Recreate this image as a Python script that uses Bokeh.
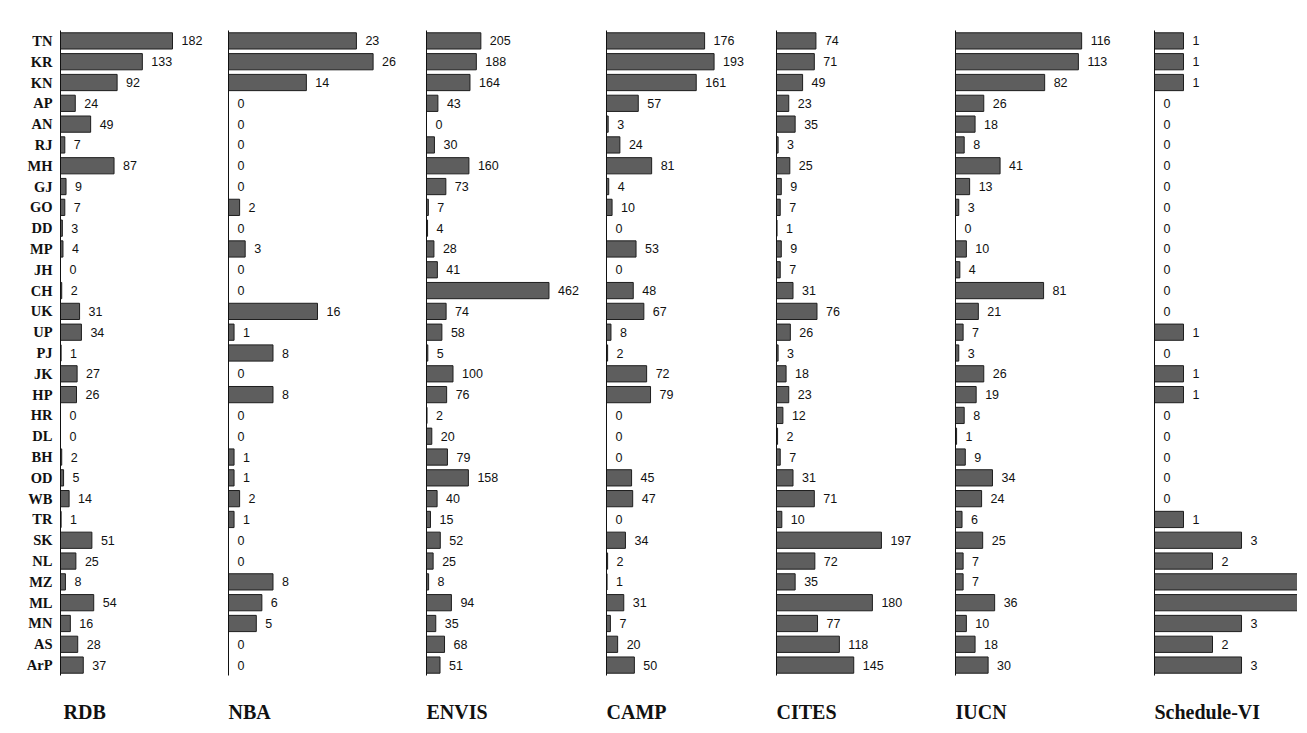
from bokeh.plotting import figure
from bokeh.layouts import row
from bokeh.models import ColumnDataSource, FactorRange, Range1d, Title, FixedTicker
from bokeh.embed import file_html
from bokeh.resources import INLINE
from bokeh.core.properties import value

states = ["TN", "KR", "KN", "AP", "AN", "RJ", "MH", "GJ", "GO", "DD", "MP", "JH", "CH", "UK", "UP", "PJ",
          "JK", "HP", "HR", "DL", "BH", "OD", "WB", "TR", "SK", "NL", "MZ", "ML", "MN", "AS", "ArP"]

rdb = [182, 133, 92, 24, 49, 7, 87, 9, 7, 3, 4, 0, 2, 31, 34, 1, 27, 26, 0, 0, 2, 5, 14, 1, 51, 25, 8, 54, 16, 28, 37]
nba = [23, 26, 14, 0, 0, 0, 0, 0, 2, 0, 3, 0, 0, 16, 1, 8, 0, 8, 0, 0, 1, 1, 2, 1, 0, 0, 8, 6, 5, 0, 0]
envis = [205, 188, 164, 43, 0, 30, 160, 73, 7, 4, 28, 41, 462, 74, 58, 5, 100, 76, 2, 20, 79, 158, 40, 15, 52, 25, 8, 94, 35, 68, 51]
camp = [176, 193, 161, 57, 3, 24, 81, 4, 10, 0, 53, 0, 48, 67, 8, 2, 72, 79, 0, 0, 0, 45, 47, 0, 34, 2, 1, 31, 7, 20, 50]
cites = [74, 71, 49, 23, 35, 3, 25, 9, 7, 1, 9, 7, 31, 76, 26, 3, 18, 23, 12, 2, 7, 31, 71, 10, 197, 72, 35, 180, 77, 118, 145]
iucn = [116, 113, 82, 26, 18, 8, 41, 13, 3, 0, 10, 4, 81, 21, 7, 3, 26, 19, 8, 1, 9, 34, 24, 6, 25, 7, 7, 36, 10, 18, 30]
sched6 = [1, 1, 1, 0, 0, 0, 0, 0, 0, 0, 0, 0, 0, 0, 1, 0, 1, 1, 0, 0, 0, 0, 0, 1, 3, 2, 5, 5, 3, 2, 3]

titles = ["RDB", "NBA", "ENVIS", "CAMP", "CITES", "IUCN", "Schedule-VI"]
series = [rdb, nba, envis, camp, cites, iucn, sched6]
x_ends = [273, 35.6, 679, 305, 336, 183, 4.93]
frame_widths = [168, 198, 180, 170, 179, 199, 143]

BAR = "#5e5e5e"
INK = "#111111"
FRAME_H = 645

figs = []
for i, (t, vals, xe, fw) in enumerate(zip(titles, series, x_ends, frame_widths)):
    src = ColumnDataSource(dict(state=states, v=vals))
    # value labels only for bars whose end lies inside the panel (in the original they are cut off)
    inside = [(s, v) for s, v in zip(states, vals) if v < xe]
    lab = ColumnDataSource(dict(state=[s for s, _ in inside], v=[v for _, v in inside],
                                label=[str(v) for _, v in inside]))
    p = figure(y_range=FactorRange(factors=states[::-1]), x_range=Range1d(0, xe),
               frame_width=fw, frame_height=FRAME_H, output_backend="svg",
               toolbar_location=None, min_border_top=30, min_border_bottom=0,
               min_border_right=0, min_border_left=(60 if i == 0 else 0))
    p.hbar(y="state", left=0, right="v", height=0.78, source=src,
           fill_color=BAR, line_color="#1e1e1e", line_width=1)
    p.text(x="v", y="state", text="label", source=lab, x_offset=9,
           text_align="left", text_baseline="middle",
           text_font=value("Liberation Sans"), text_font_size="12.5px", text_color=INK)
    p.xaxis.visible = False
    p.xgrid.grid_line_color = None
    p.ygrid.grid_line_color = None
    p.outline_line_color = None
    p.background_fill_color = "white"
    p.border_fill_color = "white"
    ax = p.yaxis[0]
    ax.axis_line_color = INK
    ax.major_tick_line_color = None
    ax.minor_tick_line_color = None
    ax.major_tick_out = 0
    ax.major_tick_in = 0
    if i == 0:
        ax.major_label_text_font = "Liberation Serif"
        ax.major_label_text_font_style = "bold"
        ax.major_label_text_font_size = "14.5px"
        ax.major_label_text_color = INK
        ax.major_label_standoff = 8
    else:
        ax.ticker = FixedTicker(ticks=[])
        ax.major_label_standoff = 0
    ttl = Title(text=t, align="left", text_font="Liberation Serif", text_font_style="bold",
                text_font_size="20px", text_color=INK, standoff=47, offset=(3 if i == 0 else 0))
    p.add_layout(ttl, "below")
    figs.append(p)

layout = row(*figs)
open("out.html", "w").write(file_html(layout, INLINE))
